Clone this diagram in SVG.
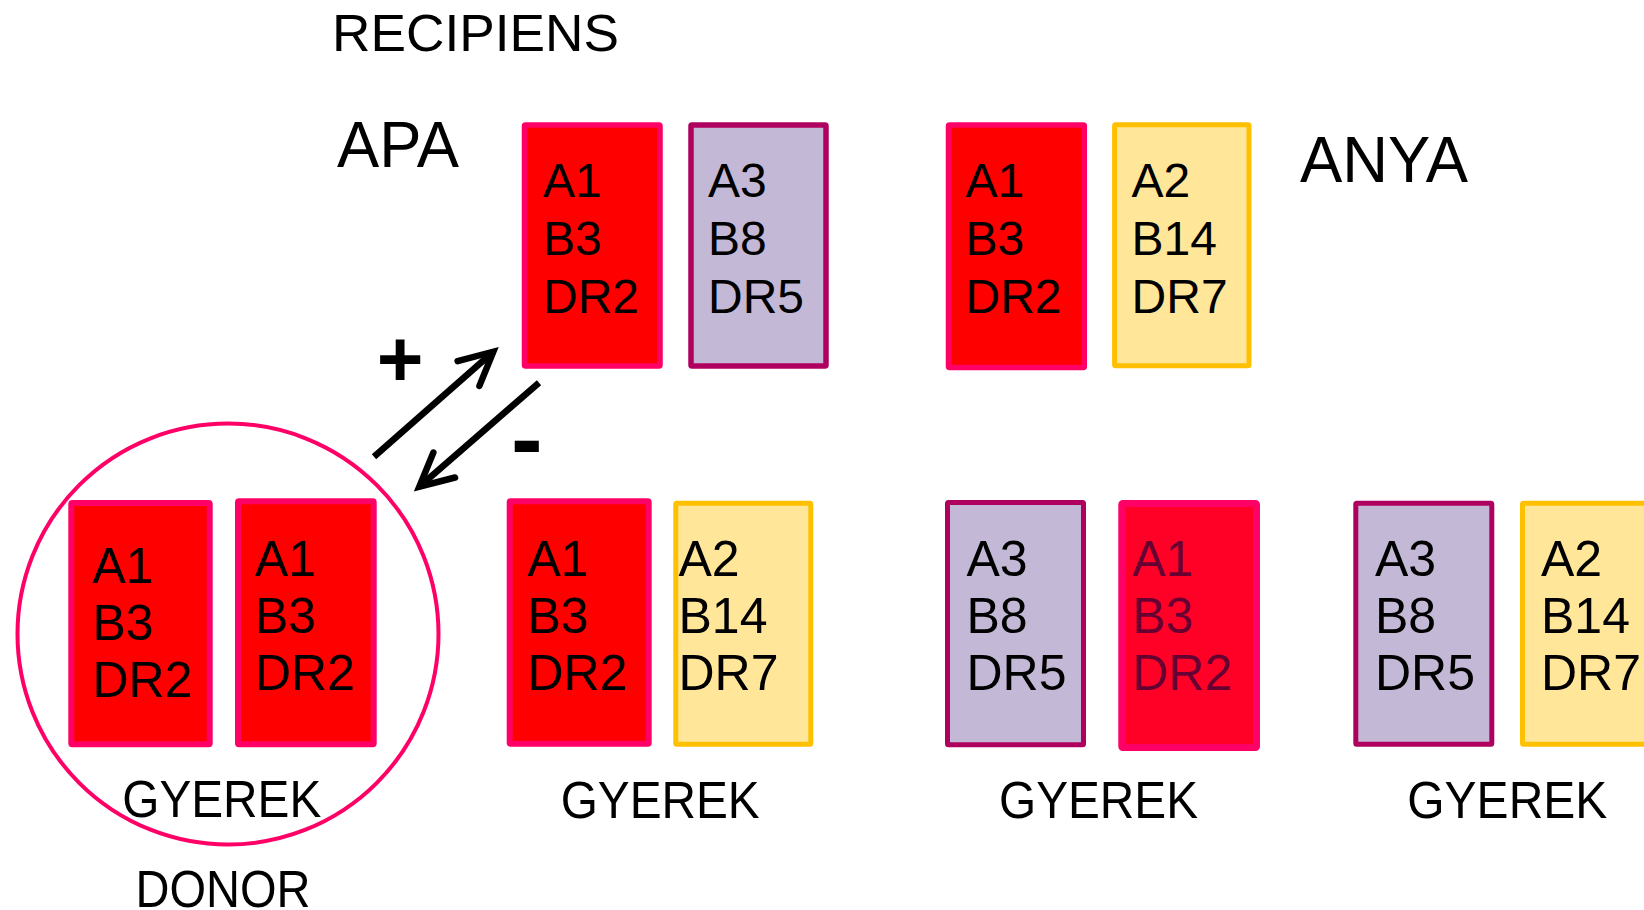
<svg xmlns="http://www.w3.org/2000/svg" width="1644" height="910" viewBox="0 0 1644 910">
<style>
text{font-family:"Liberation Sans",Arial,sans-serif;fill:#000}
.lbl{font-size:51px}
.big{font-size:64px}
.up{font-size:48px}
.lo{font-size:50px}
.red{fill:#FF0000;stroke:#FF0066}
.red2{fill:#FF0026;stroke:#FF0066}
.lav{fill:#C3B9D6;stroke:#B0005F}
.yel{fill:#FFE699;stroke:#FFC000}
.dark{fill:#660033}
.sign{font-weight:bold}
</style>
<defs>
<marker id="open" markerUnits="userSpaceOnUse" markerWidth="80" markerHeight="80" viewBox="-50 -40 80 80" refX="0" refY="0" orient="auto" overflow="visible">
<path d="M-33,-16.5 L0,0 L-33,16.5" fill="none" stroke="#000" stroke-width="6.5" stroke-linecap="round" stroke-linejoin="miter"/>
</marker>
</defs>
<rect width="1644" height="910" fill="#fff"/>

<g id="titles">
<text x="332" y="50.7" font-size="52" textLength="287" lengthAdjust="spacingAndGlyphs">RECIPIENS</text>
<text class="big" x="337" y="167.3" textLength="122" lengthAdjust="spacingAndGlyphs">APA</text>
<text x="1300" y="181.7" font-size="65" textLength="168" lengthAdjust="spacingAndGlyphs">ANYA</text>
</g>

<g id="apa-1">
<rect class="red" x="524.5" y="125" width="135.5" height="241" stroke-width="5.5" rx="1"/>
<text class="up" x="543" y="197">A1</text><text class="up" x="543" y="255">B3</text><text class="up" x="543" y="313">DR2</text>
</g>
<g id="apa-2">
<rect class="lav" x="691" y="125" width="135" height="241" stroke-width="5.5" rx="1"/>
<text class="up" x="708" y="197">A3</text><text class="up" x="708" y="255">B8</text><text class="up" x="708" y="313">DR5</text>
</g>
<g id="anya-1">
<rect class="red" x="948.5" y="125" width="135.8" height="242.5" stroke-width="5.5" rx="1"/>
<text class="up" x="965.5" y="197">A1</text><text class="up" x="965.5" y="255">B3</text><text class="up" x="965.5" y="313">DR2</text>
</g>
<g id="anya-2">
<rect class="yel" x="1114.6" y="124.8" width="134.4" height="241" stroke-width="5" rx="1"/>
<text class="up" x="1131.6" y="197">A2</text><text class="up" x="1131.6" y="255">B14</text><text class="up" x="1131.6" y="313">DR7</text>
</g>

<g id="donor">
<circle cx="228" cy="634" r="210.5" fill="none" stroke="#FF0066" stroke-width="4"/>
<rect class="red" x="71.3" y="503" width="138.4" height="241.3" stroke-width="6" rx="1"/>
<text class="lo" x="92.5" y="582.5">A1</text><text class="lo" x="92.5" y="639.5">B3</text><text class="lo" x="92.5" y="696.5">DR2</text>
<rect class="red" x="238" y="501.3" width="135.7" height="243" stroke-width="6" rx="1"/>
<text class="lo" x="255" y="576">A1</text><text class="lo" x="255" y="633">B3</text><text class="lo" x="255" y="690">DR2</text>
<text class="lbl" x="122.3" y="817.3" textLength="199" lengthAdjust="spacingAndGlyphs">GYEREK</text>
<text class="lbl" x="135.5" y="906.5" textLength="175" lengthAdjust="spacingAndGlyphs">DONOR</text>
</g>

<g id="gyerek-1">
<rect class="red" x="509.7" y="501.3" width="139" height="242.4" stroke-width="6" rx="1"/>
<text class="lo" x="527.5" y="576">A1</text><text class="lo" x="527.5" y="632.5">B3</text><text class="lo" x="527.5" y="690">DR2</text>
<rect class="yel" x="675.8" y="503.2" width="135" height="241" stroke-width="5" rx="1"/>
<text class="lo" x="678.5" y="576">A2</text><text class="lo" x="678.5" y="632.5">B14</text><text class="lo" x="678.5" y="690">DR7</text>
<text class="lbl" x="560.7" y="818" textLength="199" lengthAdjust="spacingAndGlyphs">GYEREK</text>
</g>

<g id="gyerek-2">
<rect class="lav" x="947.5" y="502.5" width="136" height="242.3" stroke-width="5" rx="1"/>
<text class="lo" x="966.5" y="576">A3</text><text class="lo" x="966.5" y="632.5">B8</text><text class="lo" x="966.5" y="690">DR5</text>
<rect class="red2" x="1121.8" y="503.5" width="134.7" height="244" stroke-width="7" rx="1"/>
<text class="lo dark" x="1132.5" y="576">A1</text><text class="lo dark" x="1132.5" y="632.5">B3</text><text class="lo dark" x="1132.5" y="690">DR2</text>
<text class="lbl" x="999" y="818" textLength="199" lengthAdjust="spacingAndGlyphs">GYEREK</text>
</g>

<g id="gyerek-3">
<rect class="lav" x="1355.8" y="503.2" width="136" height="241" stroke-width="5" rx="1"/>
<text class="lo" x="1375" y="576">A3</text><text class="lo" x="1375" y="632.5">B8</text><text class="lo" x="1375" y="690">DR5</text>
<rect class="yel" x="1522.5" y="503.2" width="135" height="241" stroke-width="5" rx="1"/>
<text class="lo" x="1541" y="576">A2</text><text class="lo" x="1541" y="632.5">B14</text><text class="lo" x="1541" y="690">DR7</text>
<text class="lbl" x="1407.3" y="818" textLength="200" lengthAdjust="spacingAndGlyphs">GYEREK</text>
</g>

<g id="connectors">
<line x1="374" y1="456.7" x2="493.3" y2="351.7" stroke="#000" stroke-width="6.5" marker-end="url(#open)"/>
<line x1="539" y1="382.7" x2="419.3" y2="486.7" stroke="#000" stroke-width="6.5" marker-end="url(#open)"/>
<text class="sign" x="400" y="386" font-size="80" text-anchor="middle">+</text>
<text class="sign" x="526.7" y="471" font-size="95" text-anchor="middle">-</text>
</g>
</svg>
